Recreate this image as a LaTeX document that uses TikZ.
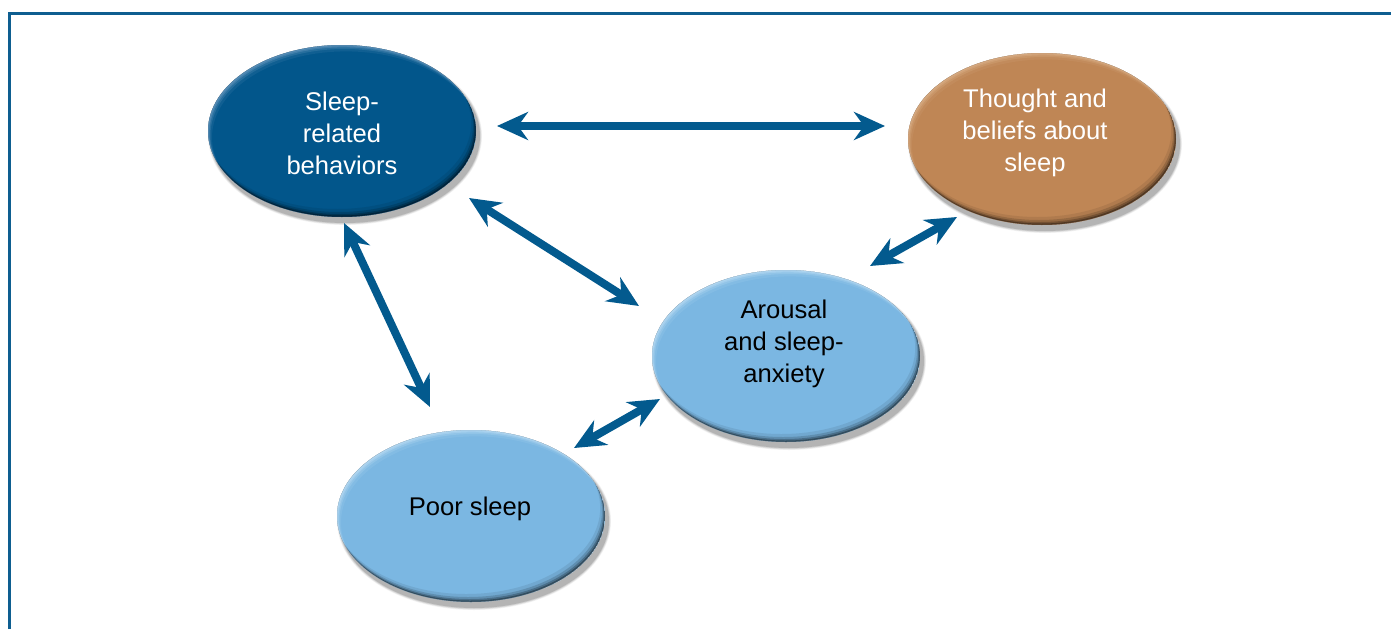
\documentclass[tikz,border=0pt]{standalone}
\usepackage{fontspec}
\setmainfont{Liberation Sans}
\usetikzlibrary{arrows.meta,shapes.geometric,calc}
\definecolor{frameblue}{HTML}{0E5E90}
\definecolor{arrowblue}{HTML}{035A8E}
\definecolor{darkblue}{HTML}{02568B}
\definecolor{darkblueHi}{HTML}{6F9EC4}
\definecolor{brownfill}{HTML}{BF8655}
\definecolor{brownHi}{HTML}{DDB48D}
\definecolor{lightblue}{HTML}{7BB7E2}
\definecolor{lightblueHi}{HTML}{BFDFF5}
\newcommand\bubbleE[4]{%
  % #1 name, #2 center, #3 fill colour, #4 highlight colour
  \foreach \s/\o in {9/0.05,7/0.07,5/0.09,3/0.12}{
    \fill[black,opacity=\o] ($(#2)+(3,5)$) ellipse [x radius=134pt+\s pt/3, y radius=86pt+\s pt/3];
  }
  \fill[#3] (#2) ellipse [x radius=134pt, y radius=86pt];
  \begin{scope}
    \clip (#2) ellipse [x radius=134pt, y radius=86pt];
    \foreach \d/\o in {1.5/0.3,3/0.22,5/0.15,8/0.08}{
      \fill[black,opacity=\o,even odd rule] (#2) ellipse [x radius=134pt, y radius=86pt]
        ($(#2)+(-\d*0.6,-\d)$) ellipse [x radius=134pt, y radius=86pt];
      \fill[#4,opacity=\o*1.6,even odd rule] (#2) ellipse [x radius=134pt, y radius=86pt]
        ($(#2)+(\d*0.5,\d*0.8)$) ellipse [x radius=134pt, y radius=86pt];
    }
  \end{scope}
  \node[ellipse,minimum width=268pt,minimum height=172pt,inner sep=0pt] (#1) at (#2) {};
}
\tikzset{
  bubtext/.style={align=center,font=\fontsize{25.6}{32}\selectfont,inner sep=0pt},
  link/.style={arrowblue,line width=8pt,
    {Stealth[length=31pt,width=28pt,inset=10pt]}-{Stealth[length=31pt,width=28pt,inset=10pt]}}
}
\begin{document}
\begin{tikzpicture}[x=1pt,y=-1pt]
\useasboundingbox (0,0) rectangle (1391,629);
% frame (top and left rules)
\draw[frameblue,line width=3pt] (9.5,629) -- (9.5,13.5) -- (1391,13.5);
% bubbles
\bubbleE{srb}{342,131}{darkblue}{darkblueHi}
\bubbleE{tb}{1042,139}{brownfill}{brownHi}
\bubbleE{ar}{786,356}{lightblue}{lightblueHi}
\bubbleE{ps}{471,516}{lightblue}{lightblueHi}
% texts
\node[bubtext,text=white] (srbT) at (342,133.5) {Sleep-\\related\\behaviors};
\node[bubtext,text=white] (tbT) at (1035,132.5) {Thought and\\beliefs about\\sleep};
\node[bubtext,text=black] (arT) at (784,343.5) {Arousal\\and sleep-\\anxiety};
\node[bubtext,text=black] (psT) at (470,508.5) {Poor sleep};
% arrow end points, each belonging to the bubble it touches
\coordinate (srb-tb) at (497,126);
\coordinate (tb-srb) at (885,126);
\coordinate (srb-ar) at (469,198);
\coordinate (ar-srb) at (639,306);
\coordinate (srb-ps) at (344,223);
\coordinate (ps-srb) at (430,407);
\coordinate (tb-ar) at (957,217);
\coordinate (ar-tb) at (870,266);
\coordinate (ar-ps) at (660,399);
\coordinate (ps-ar) at (574,448);
% connectors
\draw[link] (srb-tb) -- (tb-srb);
\draw[link] (srb-ar) -- (ar-srb);
\draw[link] (srb-ps) -- (ps-srb);
\draw[link] (tb-ar) -- (ar-tb);
\draw[link] (ar-ps) -- (ps-ar);
\end{tikzpicture}
\end{document}
